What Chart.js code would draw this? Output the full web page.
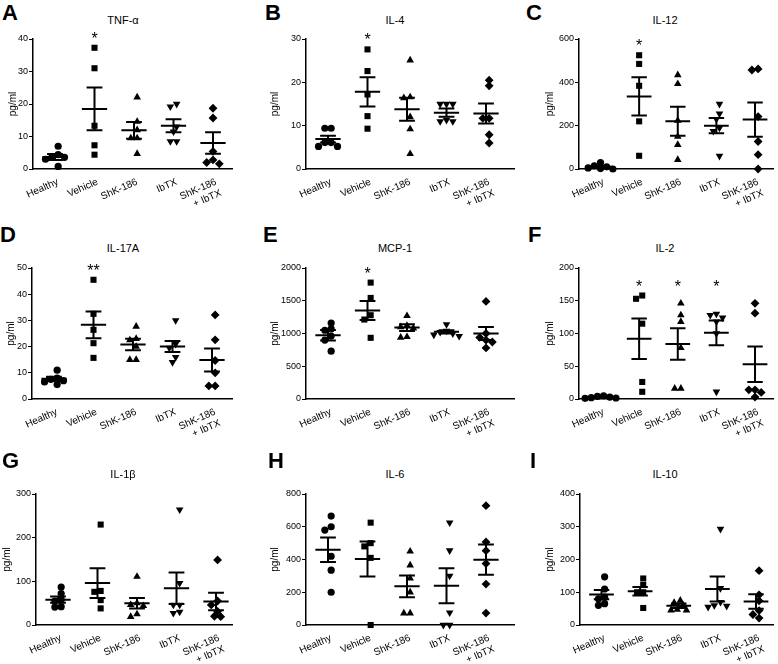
<!DOCTYPE html>
<html>
<head>
<meta charset="utf-8">
<script src="https://cdn.jsdelivr.net/npm/chart.js@4"></script>
<style>
body { margin: 0; background: #fff; }
#page { position: relative; width: 778px; height: 664px; overflow: hidden; font-family: "Liberation Sans", Arial, Helvetica, sans-serif; color: #000; }
.box { position: absolute; }
.letter { position: absolute; font-weight: bold; font-size: 22px; line-height: 1; }
.title { position: absolute; font-size: 11px; line-height: 1; white-space: nowrap; transform: translateX(-50%); }
</style>
</head>
<body>
<div id="page"></div>
<script>
const groups = ['Healthy', 'Vehicle', 'ShK-186', 'IbTX', ['ShK-186', '+ IbTX']];

// ---------------- TNF-a ----------------
const tnfValues = [[7.0, 4.4, 3.6, 3.6, 3.0, 0.8], [37.3, 31.0, 13.3, 7.3, 4.4], [22.1, 14.6, 12.0, 9.5, 9.5, 4.7], [20.0, 19.2, 13.0, 11.5, 8.5, 8.5], [18.7, 15.7, 5.4, 2.8, 2.0, 1.6]];
const tnfMean = [3.7, 18.5, 11.9, 13.3, 8.0];
const tnfSem = [0.9, 6.6, 2.6, 2.0, 3.3];
const tnfStars = ['', '*', '', '', ''];

// ---------------- IL-4 ----------------
const il4Values = [[9.4, 9.4, 6.1, 6.1, 5.2, 5.2], [27.6, 22.6, 17.2, 12.2, 9.3], [25.1, 16.6, 16.4, 12.0, 9.2, 3.5], [15.0, 15.0, 15.0, 11.3, 11.0, 11.0], [20.5, 19.2, 11.7, 11.7, 7.9, 6.0]];
const il4Mean = [6.9, 17.8, 13.8, 13.0, 12.8];
const il4Sem = [0.8, 3.35, 2.65, 0.95, 2.3];
const il4Stars = ['', '*', '', '', ''];

// ---------------- IL-12 ----------------
const il12Values = [[30, 15, 10, 5, 2, 0], [525, 485, 384, 220, 61], [434, 393, 224, 150, 112, 43], [300, 255, 230, 190, 175, 60], [457, 462, 242, 127, 66, 0]];
const il12Mean = [10, 335, 220, 200, 228];
const il12Sem = [5, 88, 67, 35, 79];
const il12Stars = ['', '*', '', '', ''];

// ---------------- IL-17A ----------------
const il17Values = [[11.0, 8.0, 7.5, 7.0, 6.5, 5.5], [45.5, 32.5, 26.4, 21.3, 15.7], [27.7, 23.0, 22.5, 20.0, 15.0, 15.0], [30.0, 21.0, 19.5, 16.0, 14.0], [32.1, 22.6, 14.7, 10.0, 5.0, 5.0]];
const il17Mean = [7.7, 28.3, 20.8, 20.0, 14.9];
const il17Sem = [0.8, 5.1, 2.2, 2.1, 4.4];
const il17Stars = ['', '**', '', '', ''];

// ---------------- MCP-1 ----------------
const mcpValues = [[1160, 1070, 1050, 960, 900, 730], [1777, 1543, 1279, 1213, 934], [1270, 1120, 1100, 1080, 950, 940], [1140, 1040, 1020, 1000, 980, 960], [1490, 1000, 940, 900, 870, 780]];
const mcpMean = [975, 1350, 1090, 1025, 1000];
const mcpSem = [80, 145, 50, 25, 100];
const mcpStars = ['', '*', '', '', ''];

// ---------------- IL-2 ----------------
const il2Values = [[5, 4, 3, 2, 1.5, 1], [158, 153, 115, 26, 11], [146, 128, 118, 78, 16, 16], [130, 128, 124, 118, 100, 11], [146, 131, 14, 14, 10, 3]];
const il2Mean = [2.8, 92, 84, 101, 53];
const il2Sem = [0.7, 31, 24, 19, 27];
const il2Stars = ['', '*', '*', '*', ''];

// ---------------- IL-1b ----------------
const il1Values = [[87, 72, 58, 55, 42, 41], [230, 78, 76, 57, 38], [111, 50, 46, 44, 25, 19], [264, 96, 46, 46, 30, 27], [149, 55, 46, 31, 20, 19]];
const il1Mean = [58, 96, 50, 84, 54];
const il1Sem = [7, 34, 12, 36, 20];
const il1Stars = ['', '', '', '', ''];

// ---------------- IL-6 ----------------
const il6Values = [[665, 600, 580, 420, 335, 200], [625, 500, 480, 410, 0], [450, 365, 285, 200, 72, 72], [625, 455, 300, 75, 0, 0], [729, 507, 454, 375, 250, 73]];
const il6Mean = [460, 403, 236, 240, 399];
const il6Sem = [75, 107, 67, 107, 92];
const il6Stars = ['', '', '', '', ''];

// ---------------- IL-10 ----------------
const il10Values = [[147, 110, 85, 80, 65, 60], [142, 122, 100, 100, 52], [75, 68, 60, 47, 45, 45], [293, 112, 70, 60, 58, 55], [166, 92, 74, 44, 32, 21]];
const il10Mean = [93, 103, 59, 110, 72];
const il10Sem = [14, 13, 7, 38, 22];
const il10Stars = ['', '', '', '', ''];

const panels = [
    { letter: 'A', title: 'TNF-α', values: tnfValues, mean: tnfMean, sem: tnfSem, stars: tnfStars, yMax: 40, step: 10 },
    { letter: 'B', title: 'IL-4', values: il4Values, mean: il4Mean, sem: il4Sem, stars: il4Stars, yMax: 30, step: 10 },
    { letter: 'C', title: 'IL-12', values: il12Values, mean: il12Mean, sem: il12Sem, stars: il12Stars, yMax: 600, step: 200 },
    { letter: 'D', title: 'IL-17A', values: il17Values, mean: il17Mean, sem: il17Sem, stars: il17Stars, yMax: 50, step: 10 },
    { letter: 'E', title: 'MCP-1', values: mcpValues, mean: mcpMean, sem: mcpSem, stars: mcpStars, yMax: 2000, step: 500 },
    { letter: 'F', title: 'IL-2', values: il2Values, mean: il2Mean, sem: il2Sem, stars: il2Stars, yMax: 200, step: 50 },
    { letter: 'G', title: 'IL-1β', values: il1Values, mean: il1Mean, sem: il1Sem, stars: il1Stars, yMax: 300, step: 100 },
    { letter: 'H', title: 'IL-6', values: il6Values, mean: il6Mean, sem: il6Sem, stars: il6Stars, yMax: 800, step: 200 },
    { letter: 'I', title: 'IL-10', values: il10Values, mean: il10Mean, sem: il10Sem, stars: il10Stars, yMax: 400, step: 100 }
];

// ---------------- LAYOUT ----------------
const FONT = '"Liberation Sans", Arial, Helvetica, sans-serif';
const cols = [
    { left: 0, width: 240, right: 232, axis: [33, 32, 36], titleX: 123, yTitle: [13, 11, 7], letterX: [2, 0, 2] },
    { left: 262, width: 258, right: 514, axis: [306, 306, 306], titleX: 395, yTitle: [275, 275, 275], letterX: [265, 263, 268] },
    { left: 536, width: 242, right: 778, axis: [579, 579, 580], titleX: 665, yTitle: [550, 550, 550], letterX: [526, 528, 530] }
];
// every row gets the same 50px label band; the last one runs past the page edge and is cut
const rows = [
    { top: 30, plotTop: 39, plotBottom: 169, titleBase: 24, letterTop: 5 },
    { top: 259, plotTop: 268, plotBottom: 399, titleBase: 252, letterTop: 227 },
    { top: 485, plotTop: 494, plotBottom: 625, titleBase: 478, letterTop: 453 }
];
const LABEL_BAND = 50;
const CAT_PX = 39.5;
const FIRST_PX = 22;

const markers = [
    { pointStyle: 'circle', radius: 3.6, rotation: 0 },
    { pointStyle: 'rect', radius: 4.3, rotation: 0 },
    { pointStyle: 'triangle', radius: 4.4, rotation: 0 },
    { pointStyle: 'triangle', radius: 4.4, rotation: 180 },
    { pointStyle: 'rectRot', radius: 4.4, rotation: 0 }
];

// side-by-side placement of close points (like a dot plot)
function spread(vals, pxPerUnit) {
    const order = vals.map((v, i) => i).sort((a, b) => vals[b] - vals[a]);
    const placed = [];
    const offs = vals.map(() => 0);
    order.forEach(i => {
        for (let k = 0; k < 30; k++) {
            const o = k === 0 ? 0 : (k % 2 ? -1 : 1) * Math.ceil(k / 2) * 0.08;
            const hit = placed.some(p => Math.hypot((p.o - o) * CAT_PX, (p.v - vals[i]) * pxPerUnit) < 5.5);
            if (!hit) { offs[i] = o; placed.push({ o: o, v: vals[i] }); break; }
        }
    });
    const mid = (Math.min(...offs) + Math.max(...offs)) / 2;
    return offs.map(o => o - mid);
}

const starPlugin = {
    id: 'stars',
    afterDatasetsDraw(chart, args, opts) {
        const { ctx } = chart;
        const x = chart.scales.x, y = chart.scales.y;
        let top = -Infinity;
        opts.stars.forEach((s, i) => { if (s) top = Math.max(top, ...opts.values[i]); });
        if (top === -Infinity) return;
        const py = y.getPixelForValue(top) - 13;
        ctx.save();
        ctx.fillStyle = '#000';
        ctx.font = '16px ' + FONT;
        ctx.textAlign = 'center';
        ctx.textBaseline = 'alphabetic';
        opts.stars.forEach((s, i) => { if (s) ctx.fillText(s, x.getPixelForValue(i), py + 9); });
        ctx.restore();
    }
};

const page = document.getElementById('page');

panels.forEach((p, n) => {
    const col = cols[n % 3], row = rows[Math.floor(n / 3)], r = Math.floor(n / 3);

    const letter = document.createElement('div');
    letter.className = 'letter';
    letter.textContent = p.letter;
    letter.style.left = col.letterX[r] + 'px';
    letter.style.top = (row.letterTop - 3) + 'px';
    page.appendChild(letter);

    const title = document.createElement('div');
    title.className = 'title';
    title.textContent = p.title;
    title.style.left = col.titleX + 'px';
    title.style.top = (row.titleBase - 9.3) + 'px';
    page.appendChild(title);

    const box = document.createElement('div');
    box.className = 'box';
    const w = col.width, h = row.plotBottom + LABEL_BAND - row.top;
    box.style.left = col.left + 'px';
    box.style.top = row.top + 'px';
    const canvas = document.createElement('canvas');
    canvas.width = w; canvas.height = h;
    canvas.style.width = w + 'px'; canvas.style.height = h + 'px';
    box.appendChild(canvas);
    page.appendChild(box);

    const axisX = col.axis[r];
    const yw = axisX - col.left;
    const xMin = -FIRST_PX / CAT_PX;
    const xMax = xMin + (col.right - axisX) / CAT_PX;
    const pxPerUnit = (row.plotBottom - row.plotTop) / p.yMax;

    const datasets = p.values.map((vals, i) => {
        const offs = spread(vals, pxPerUnit);
        const m = markers[i];
        return {
            data: vals.map((v, j) => ({ x: i + offs[j], y: v })),
            pointStyle: m.pointStyle,
            pointRadius: m.radius,
            rotation: m.rotation,
            backgroundColor: '#000',
            borderColor: '#000',
            borderWidth: 0,
            clip: false
        };
    });

    const bars = [];
    p.mean.forEach((m, i) => {
        const s = p.sem[i];
        bars.push({ x: i - 0.32, y: m }, { x: i + 0.32, y: m }, { x: i, y: null },
            { x: i - 0.2, y: m + s }, { x: i + 0.2, y: m + s }, { x: i, y: null },
            { x: i - 0.2, y: m - s }, { x: i + 0.2, y: m - s }, { x: i, y: null },
            { x: i, y: m - s }, { x: i, y: m + s }, { x: i, y: null });
    });
    datasets.push({
        data: bars,
        showLine: true,
        spanGaps: false,
        borderColor: '#000',
        borderWidth: 2,
        pointRadius: 0,
        clip: false
    });

    new Chart(canvas, {
        type: 'scatter',
        data: { datasets: datasets },
        options: {
            responsive: false,
            animation: false,
            layout: { padding: { top: row.plotTop - row.top, right: col.left + w - col.right, left: 0, bottom: 0 } },
            plugins: {
                legend: { display: false },
                tooltip: { enabled: false },
                stars: { stars: p.stars, values: p.values }
            },
            scales: {
                x: {
                    type: 'linear',
                    min: xMin,
                    max: xMax,
                    grid: { display: false },
                    border: { display: true, color: '#000', width: 1.5 },
                    afterBuildTicks: s => { s.ticks = groups.map((g, i) => ({ value: i })); },
                    afterFit: s => { s.height = LABEL_BAND; },
                    ticks: {
                        autoSkip: false,
                        minRotation: 24,
                        maxRotation: 24,
                        padding: -1,
                        labelOffset: 3,
                        color: '#000',
                        font: { size: 10, family: FONT },
                        callback: v => groups[v]
                    }
                },
                y: {
                    min: 0,
                    max: p.yMax,
                    afterFit: s => { s.width = yw; },
                    ticks: { stepSize: p.step, color: '#000', font: { size: 9, family: FONT }, padding: 1, callback: v => String(v) },
                    grid: { drawOnChartArea: false, tickLength: 4, color: '#000', lineWidth: 1 },
                    border: { color: '#000', width: 1.5 },
                    title: {
                        display: true,
                        text: 'pg/ml',
                        color: '#000',
                        font: { size: 10, family: FONT },
                        padding: { top: col.yTitle[r] - col.left - 6, bottom: 0 }
                    }
                }
            }
        },
        plugins: [starPlugin]
    });
});
</script>
</body>
</html>
